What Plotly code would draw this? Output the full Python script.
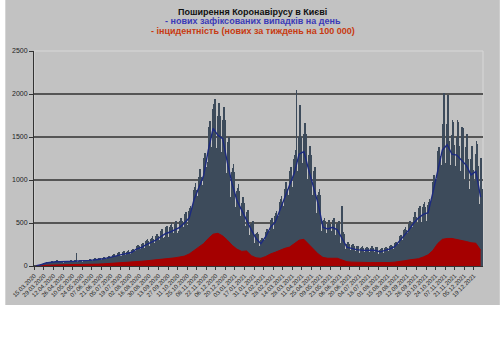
import pandas as pd
import plotly.graph_objects as go

START_DATE = "2020-03-15"

# daily new cases, one row per week (Sunday..Saturday)
daily_weeks = [
    [1, 2, 3, 5, 6, 8, 10],
    [10, 6, 14, 18, 20, 22, 15],
    [30, 18, 32, 40, 42, 45, 38],
    [38, 22, 40, 52, 55, 58, 50],
    [42, 25, 45, 58, 60, 65, 55],
    [45, 28, 44, 56, 62, 60, 55],
    [40, 26, 46, 58, 60, 64, 56],
    [48, 30, 50, 62, 65, 70, 60],
    [46, 28, 50, 62, 66, 68, 155],
    [52, 32, 55, 68, 72, 75, 66],
    [50, 30, 56, 70, 74, 72, 68],
    [56, 34, 60, 75, 80, 82, 70],
    [60, 36, 64, 80, 86, 88, 76],
    [64, 38, 68, 88, 92, 95, 80],
    [72, 42, 78, 98, 104, 108, 94],
    [80, 48, 86, 110, 116, 120, 105],
    [94, 55, 100, 128, 134, 140, 120],
    [106, 62, 112, 145, 152, 158, 140],
    [115, 68, 122, 156, 165, 170, 150],
    [124, 72, 130, 168, 175, 182, 160],
    [136, 80, 144, 185, 195, 200, 180],
    [170, 100, 180, 230, 240, 250, 230],
    [182, 108, 195, 248, 260, 270, 240],
    [212, 125, 225, 290, 300, 312, 286],
    [234, 138, 248, 318, 330, 345, 312],
    [255, 150, 270, 345, 360, 375, 345],
    [290, 170, 306, 392, 408, 425, 390],
    [320, 188, 338, 432, 450, 470, 430],
    [335, 198, 355, 455, 475, 495, 452],
    [357, 210, 378, 483, 504, 525, 30],
    [382, 225, 405, 518, 540, 562, 518],
    [425, 250, 450, 575, 600, 625, 575],
    [476, 280, 504, 644, 672, 700, 644],
    [655, 385, 693, 885, 924, 962, 886],
    [765, 450, 810, 1035, 1080, 1125, 1035],
    [892, 525, 945, 1208, 1260, 1312, 1208],
    [1148, 675, 1215, 1552, 1620, 1688, 1552],
    [1380, 820, 1460, 1820, 1880, 1900, 1940],
    [1290, 760, 1370, 1750, 1830, 1890, 1740],
    [1258, 740, 1330, 1700, 1780, 1850, 1702],
    [1020, 600, 1080, 1380, 1440, 1500, 1380],
    [808, 475, 855, 1092, 1140, 1188, 1092],
    [646, 380, 684, 874, 912, 950, 874],
    [544, 320, 576, 736, 768, 800, 736],
    [442, 260, 468, 598, 624, 650, 598],
    [357, 210, 378, 483, 504, 525, 483],
    [272, 160, 288, 368, 384, 400, 368],
    [221, 130, 234, 299, 312, 325, 299],
    [289, 170, 306, 391, 408, 425, 391],
    [382, 225, 405, 518, 540, 562, 518],
    [434, 255, 459, 586, 612, 638, 586],
    [552, 325, 585, 748, 780, 812, 748],
    [663, 390, 702, 897, 936, 975, 897],
    [782, 460, 828, 1058, 1104, 1150, 1058],
    [918, 540, 972, 1242, 1296, 1350, 2050],
    [1105, 650, 1170, 1495, 1870, 1625, 1495],
    [1130, 665, 1197, 1530, 1596, 1662, 1530],
    [952, 560, 1008, 1288, 1344, 1400, 1288],
    [782, 460, 828, 1058, 1104, 1150, 1058],
    [612, 360, 648, 828, 864, 900, 828],
    [382, 225, 405, 518, 540, 562, 518],
    [365, 215, 387, 494, 516, 538, 494],
    [382, 225, 405, 518, 540, 562, 518],
    [357, 210, 378, 483, 504, 525, 483],
    [272, 160, 288, 700, 384, 400, 368],
    [187, 110, 198, 253, 264, 275, 253],
    [174, 102, 184, 236, 246, 256, 236],
    [162, 95, 171, 218, 228, 238, 218],
    [157, 92, 166, 213, 222, 231, 213],
    [153, 90, 162, 207, 216, 225, 207],
    [160, 95, 168, 210, 220, 228, 214],
    [150, 88, 160, 210, 218, 222, 212],
    [140, 82, 148, 190, 198, 206, 190],
    [153, 90, 162, 207, 216, 225, 207],
    [170, 100, 180, 230, 240, 250, 230],
    [191, 112, 202, 259, 270, 281, 259],
    [246, 145, 261, 334, 348, 362, 334],
    [306, 180, 324, 414, 432, 450, 414],
    [357, 210, 378, 483, 504, 525, 483],
    [425, 250, 450, 575, 600, 625, 575],
    [476, 280, 504, 644, 672, 700, 644],
    [510, 300, 540, 690, 720, 750, 690],
    [527, 310, 558, 713, 744, 775, 713],
    [722, 425, 765, 978, 1020, 1062, 978],
    [944, 555, 999, 1276, 1332, 1388, 1276],
    [1100, 520, 1180, 1560, 1650, 2010, 1430],
    [1200, 560, 1270, 1650, 1990, 1750, 1450],
    [1105, 520, 1170, 1520, 1700, 1675, 1410],
    [1100, 500, 1160, 1500, 1700, 1680, 1390],
    [1045, 480, 1107, 1450, 1620, 1600, 1308],
    [995, 460, 1053, 1380, 1540, 1520, 1242],
    [900, 420, 954, 1250, 1400, 1380, 1116],
    [935, 440, 990, 1300, 1450, 1420, 1165],
    [680, 320, 720, 950, 1260, 900, 770],
]

# 7-day average (one point per week, plotted mid-week)
weekly_avg = [
    5, 15, 35, 45, 50, 50, 50, 55, 55, 60,
    60, 65, 70, 75, 85, 95, 110, 125, 135, 145,
    160, 200, 215, 250, 275, 300, 340, 375, 395, 420,
    450, 500, 560, 770, 900, 1050, 1350, 1600, 1520, 1480,
    1200, 950, 760, 640, 520, 420, 320, 260, 340, 450,
    510, 650, 780, 920, 1080, 1300, 1330, 1120, 920, 720,
    450, 430, 450, 420, 320, 220, 205, 190, 185, 180,
    185, 180, 165, 180, 200, 225, 290, 360, 420, 500,
    560, 600, 620, 850, 1110, 1350, 1410, 1300, 1290, 1230,
    1170, 1060, 1100, 800,
]

# incidence: new cases per week per 100 000
incidence = [
    5, 8, 10, 12, 14, 15, 15, 16, 16, 17,
    18, 18, 20, 22, 25, 28, 30, 33, 36, 40,
    45, 50, 55, 60, 65, 70, 75, 85, 90, 95,
    105, 115, 140, 180, 220, 260, 320, 370, 380, 350,
    300, 240, 195, 170, 175, 120, 95, 90, 110, 140,
    160, 185, 205, 220, 260, 300, 310, 250, 190, 140,
    100, 90, 90, 90, 70, 50, 45, 42, 40, 40,
    40, 40, 38, 38, 40, 45, 50, 60, 70, 75,
    85, 105, 130, 180, 260, 310, 320, 320, 310, 300,
    285, 270, 265, 185,
]

daily = [v for week in daily_weeks for v in week]
days = pd.date_range(START_DATE, periods=len(daily), freq="D")
week_mid = pd.date_range(pd.Timestamp(START_DATE) + pd.Timedelta(days=3),
                         periods=len(weekly_avg), freq="7D")

fig = go.Figure()
fig.add_trace(go.Bar(x=days, y=daily, marker=dict(color="#3d4b5b", line=dict(width=0)),
                     hoverinfo="x+y"))
fig.add_trace(go.Scatter(x=week_mid, y=incidence, mode="lines", fill="tozeroy",
                         line=dict(color="#a50000", width=1), fillcolor="#a50000"))
fig.add_trace(go.Scatter(x=week_mid, y=weekly_avg, mode="lines",
                         line=dict(color="#1c2a80", width=1.4)))

W, H = 500, 359
L, R, T, B = 29, 483, 51, 266
pw, ph = R - L, B - T

def px(x):
    return (x - L) / pw

def py(y):
    return (B - y) / ph

bg = "#c2c2c2"
fig.add_shape(type="rect", xref="paper", yref="paper", x0=px(0), x1=px(W), y0=py(305), y1=py(0),
              fillcolor=bg, line=dict(width=0), layer="below")
fig.add_shape(type="rect", xref="paper", yref="paper", x0=0, x1=1, y0=0, y1=1,
              fillcolor="rgba(0,0,0,0)", line=dict(color="#d8d8d8", width=1), layer="below")

title_font = "Liberation Sans, Arial, sans-serif"
titles = [
    ("Поширення Коронавірусу в Києві", "#111111", 12),
    ("- нових зафіксованих випадків на день", "#3a3ab8", 21),
    ("- інцидентність (нових за тиждень на 100 000)", "#c83a10", 31),
]
for text, color, ypix in titles:
    fig.add_annotation(text=f"<b>{text}</b>", xref="paper", yref="paper", x=px(250), y=py(ypix),
                       showarrow=False, xanchor="center", yanchor="middle",
                       font=dict(family=title_font, size=9, color=color))

fig.update_layout(
    width=W, height=H,
    margin=dict(l=L, r=W - R, t=T, b=H - B, pad=0),
    paper_bgcolor="white", plot_bgcolor=bg,
    showlegend=False, bargap=0,
    font=dict(family=title_font, color="#222222"),
)
fig.update_xaxes(
    type="date", range=["2020-03-14 12:00", "2022-01-01 12:00"],
    tick0=START_DATE, dtick=14 * 86400000, tickformat="%d.%m.%Y",
    tickangle=-45, tickfont=dict(size=6, color="#222222"),
    ticks="outside", ticklen=3, tickcolor="#333333",
    showgrid=False, showline=True, linecolor="#333333", linewidth=1, zeroline=False,
)
fig.update_yaxes(
    range=[0, 2500], dtick=500, tickfont=dict(size=7, color="#222222"),
    ticks="outside", ticklen=4, tickcolor="#333333",
    showgrid=True, gridcolor="#555555", gridwidth=1.5,
    showline=True, linecolor="#333333", linewidth=1, zeroline=False,
)

fig.write_html("out.html", config={"displayModeBar": False},
               post_script="document.body.style.margin='0';document.body.style.overflow='hidden';")
